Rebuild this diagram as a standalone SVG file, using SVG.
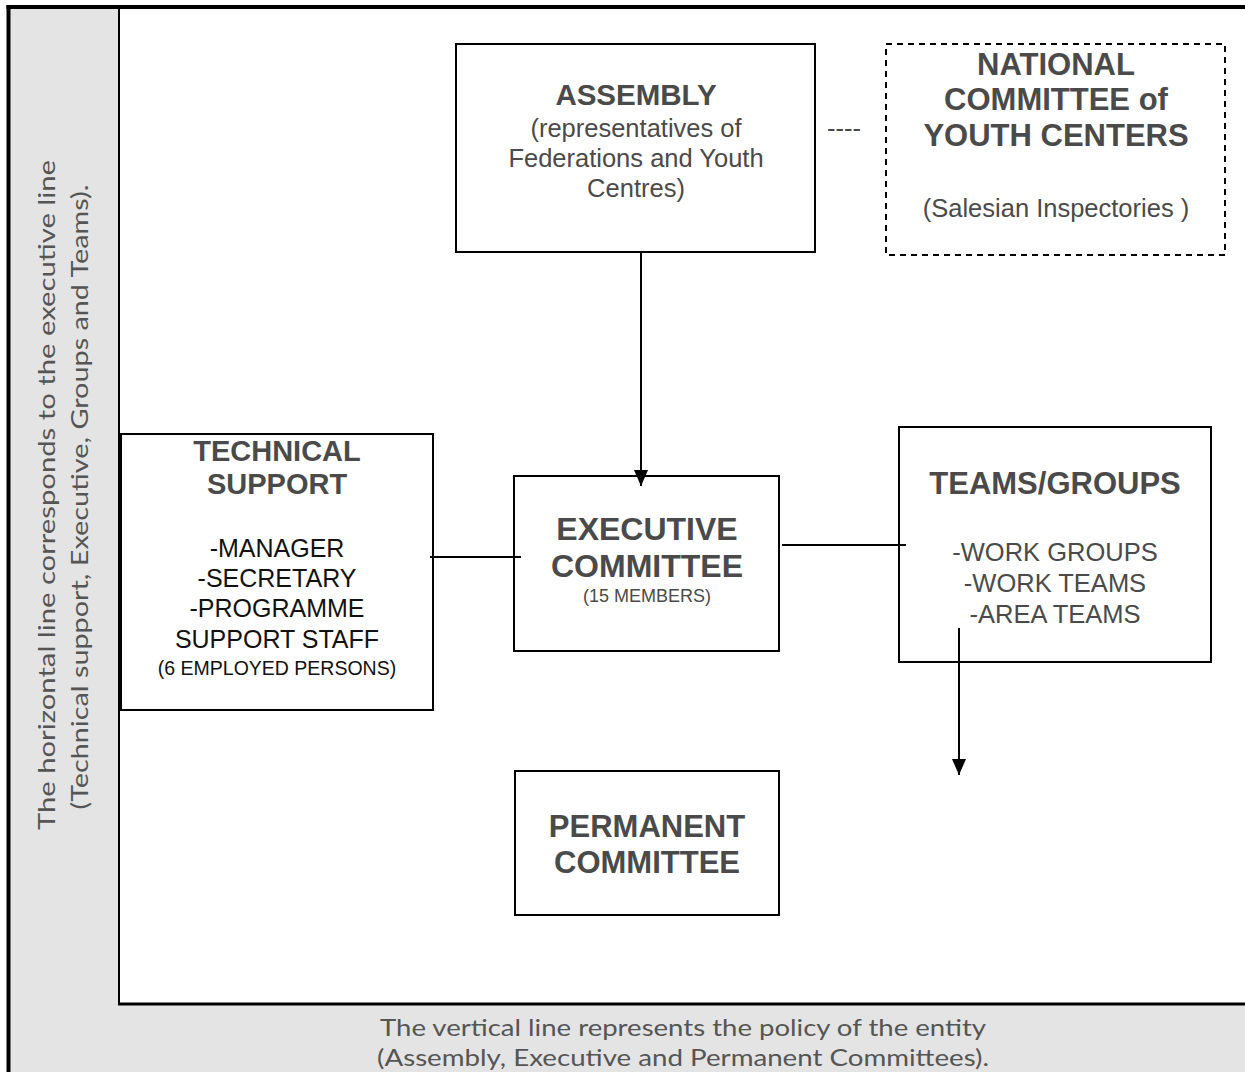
<svg xmlns="http://www.w3.org/2000/svg" width="1245" height="1072" viewBox="0 0 1245 1072">
<style>
.box{fill:#fff;stroke:#000;stroke-width:2}
.dash{fill:#fff;stroke:#000;stroke-width:2;stroke-dasharray:6 5}
.t{font-family:"Liberation Sans",Arial,sans-serif;text-anchor:middle}
.b{font-weight:bold;font-size:31px;fill:#4a4a4a}
.r{font-size:25.5px;fill:#4a4a4a}
.k{font-size:25px;fill:#111}
.s{font-size:18px}
.side{font-family:Lato,"Open Sans",sans-serif;font-size:24px;fill:#555;text-anchor:middle}
.ln{stroke:#000;stroke-width:2;fill:none}
</style>
<defs>
<marker id="arr" markerUnits="userSpaceOnUse" markerWidth="16" markerHeight="14" viewBox="0 0 16 14" refX="16" refY="7" orient="auto">
<path d="M0,0 L16,7 L0,14 z" fill="#000"/>
</marker>
</defs>
<g id="frame">
<rect x="10" y="9" width="1235" height="1063" fill="#e4e4e4"/>
<rect x="119" y="9" width="1126" height="995" fill="#fff"/>
<line x1="119" y1="9" x2="119" y2="1004" stroke="#000" stroke-width="2"/>
<line x1="118" y1="1004" x2="1245" y2="1004" stroke="#000" stroke-width="3"/>
<line x1="6.5" y1="7" x2="1245" y2="7" stroke="#000" stroke-width="4"/>
<line x1="8.5" y1="5" x2="8.5" y2="1072" stroke="#000" stroke-width="4"/>
<text class="side" transform="translate(55,495) rotate(-90)" textLength="670" lengthAdjust="spacingAndGlyphs">The horizontal line corresponds to the executive line</text>
<text class="side" transform="translate(88,497) rotate(-90)" textLength="625" lengthAdjust="spacingAndGlyphs">(Technical support, Executive, Groups and Teams).</text>
<text class="side" x="683" y="1036" textLength="606" lengthAdjust="spacingAndGlyphs">The vertical line represents the policy of the entity</text>
<text class="side" x="683" y="1066" textLength="612" lengthAdjust="spacingAndGlyphs">(Assembly, Executive and Permanent Committees).</text>
</g>
<g id="assembly">
<rect class="box" x="456" y="44" width="359" height="208"/>
<text class="t b" x="636" y="105" style="font-size:29.5px">ASSEMBLY</text>
<text class="t r" x="636" y="137">(representatives of</text>
<text class="t r" x="636" y="167">Federations and Youth</text>
<text class="t r" x="636" y="197">Centres)</text>
</g>
<g id="national">
<rect class="dash" x="886" y="44" width="339" height="211"/>
<text class="t b" x="1056" y="75">NATIONAL</text>
<text class="t b" x="1056" y="110">COMMITTEE of</text>
<text class="t b" x="1056" y="146">YOUTH CENTERS</text>
<text class="t r" x="1056" y="217">(Salesian Inspectories )</text>
</g>
<g id="technical">
<rect class="box" x="121" y="434" width="312" height="276"/>
<text class="t b" x="277" y="461" style="font-size:29px">TECHNICAL</text>
<text class="t b" x="277" y="494" style="font-size:29px">SUPPORT</text>
<text class="t k" x="277" y="557">-MANAGER</text>
<text class="t k" x="277" y="587">-SECRETARY</text>
<text class="t k" x="277" y="617">-PROGRAMME</text>
<text class="t k" x="277" y="648">SUPPORT STAFF</text>
<text class="t k" x="277" y="675" style="font-size:19.5px">(6 EMPLOYED PERSONS)</text>
</g>
<g id="executive">
<rect class="box" x="514" y="476" width="265" height="175"/>
<text class="t b" x="647" y="540" style="font-size:32px">EXECUTIVE</text>
<text class="t b" x="647" y="577" style="font-size:32px">COMMITTEE</text>
<text class="t r s" x="647" y="602">(15 MEMBERS)</text>
</g>
<g id="teams">
<rect class="box" x="899" y="427" width="312" height="235"/>
<text class="t b" x="1055" y="494">TEAMS/GROUPS</text>
<text class="t r" x="1055" y="561">-WORK GROUPS</text>
<text class="t r" x="1055" y="592">-WORK TEAMS</text>
<text class="t r" x="1055" y="623">-AREA TEAMS</text>
</g>
<g id="permanent">
<rect class="box" x="515" y="771" width="264" height="144"/>
<text class="t b" x="647" y="837">PERMANENT</text>
<text class="t b" x="647" y="873">COMMITTEE</text>
</g>
<g id="connectors">
<line class="ln" x1="641" y1="252" x2="641" y2="486" marker-end="url(#arr)"/>
<line class="ln" x1="430" y1="557" x2="521" y2="557"/>
<line class="ln" x1="782" y1="545" x2="906" y2="545"/>
<line class="ln" x1="959" y1="628" x2="959" y2="775" marker-end="url(#arr)"/>
<text class="t r" x="844" y="137">----</text>
</g>
</svg>
